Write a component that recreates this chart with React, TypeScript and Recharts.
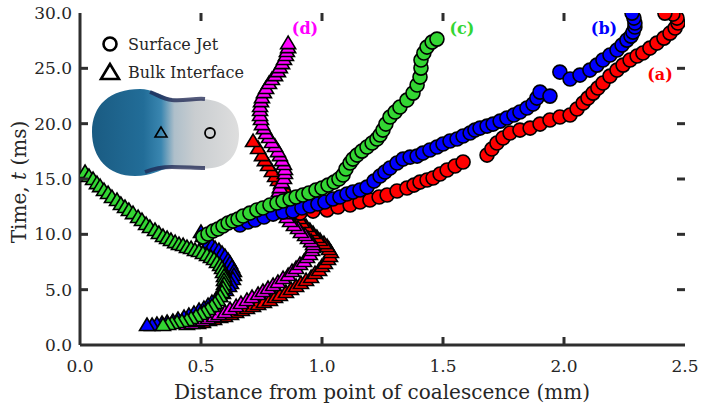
import React from 'react';
import { ScatterChart, Scatter, XAxis, YAxis } from 'recharts';

// colours of the four runs
const RED = '#ff0000';
const BLUE = '#0000ff';
const GREEN = '#33d633';
const MAGENTA = '#ff00ff';
const AXIS = '#2e2e2e';
const TEXT = '#262626';
const FONT = '"DejaVu Serif", "Liberation Serif", serif';

// plot frame (from the chart margins below)
const PLOT_TOP = 13;
const PLOT_RIGHT = 685;

const xTicks = [0, 0.5, 1, 1.5, 2, 2.5];
const yTicks = [0, 5, 10, 15, 20, 25, 30];

// [distance (mm), time (ms)]
// (a) surface jet
const jetA: [number, number][] = [
  [0.909, 11.92], [0.963, 12.1], [1.021, 12.2], [1.066, 12.47], [1.116, 12.65], [1.157, 12.92],
  [1.198, 13.1], [1.236, 13.37], [1.269, 13.55], [1.31, 13.91], [1.351, 14.18], [1.38, 14.45],
  [1.405, 14.72], [1.434, 14.91], [1.459, 15.09], [1.488, 15.45], [1.517, 15.81], [1.55, 16.17],
  [1.583, 16.53], [1.682, 17.16], [1.702, 17.71], [1.723, 18.25], [1.748, 18.7], [1.777, 19.15],
  [1.818, 19.42], [1.86, 19.6], [1.901, 19.96], [1.942, 20.33], [1.983, 20.6], [2.025, 20.78],
  [2.054, 21.32], [2.079, 21.86], [2.099, 22.31], [2.12, 22.76], [2.14, 23.22], [2.161, 23.67],
  [2.19, 24.3], [2.219, 24.84], [2.244, 25.29], [2.273, 25.75], [2.302, 26.11], [2.326, 26.38],
  [2.355, 26.83], [2.384, 27.28], [2.413, 27.73], [2.438, 28.18], [2.459, 28.64], [2.471, 29.09],
  [2.467, 29.54], [2.45, 29.9], [2.417, 29.99],
];
// (a) bulk interface
const bulkA: [number, number][] = [
  [0.488, 1.99], [0.508, 2.08], [0.533, 2.26], [0.554, 2.35], [0.579, 2.53], [0.599, 2.62],
  [0.624, 2.8], [0.645, 2.98], [0.669, 3.16], [0.69, 3.34], [0.715, 3.52], [0.736, 3.7],
  [0.76, 3.88], [0.785, 4.07], [0.806, 4.34], [0.826, 4.52], [0.851, 4.79], [0.872, 5.06],
  [0.893, 5.33], [0.913, 5.6], [0.934, 5.87], [0.955, 6.14], [0.971, 6.5], [0.988, 6.78],
  [1.0, 7.14], [1.012, 7.41], [1.025, 7.77], [1.033, 8.04], [1.037, 8.4], [1.029, 8.67],
  [1.021, 8.94], [1.008, 9.21], [0.992, 9.49], [0.979, 9.76], [0.963, 10.12], [0.95, 10.39],
  [0.934, 10.75], [0.917, 11.11], [0.905, 11.47], [0.893, 11.83], [0.884, 12.29], [0.876, 12.65],
  [0.868, 13.1], [0.86, 13.55], [0.851, 14.0], [0.843, 14.27], [0.831, 14.63], [0.818, 14.91],
  [0.806, 15.27], [0.793, 15.72], [0.777, 16.26], [0.764, 16.71], [0.752, 17.16], [0.736, 17.8],
  [0.715, 18.43],
];
// (b) surface jet
const jetB: [number, number][] = [
  [0.661, 10.84], [0.694, 11.11], [0.723, 11.29], [0.76, 11.56], [0.798, 11.83], [0.839, 12.01],
  [0.88, 12.1], [0.917, 12.38], [0.95, 12.56], [0.983, 12.74], [1.012, 12.92], [1.045, 13.19],
  [1.074, 13.37], [1.103, 13.64], [1.128, 13.82], [1.157, 14.0], [1.186, 14.27], [1.215, 14.81],
  [1.24, 15.27], [1.26, 15.63], [1.281, 15.99], [1.31, 16.44], [1.335, 16.8], [1.364, 16.98],
  [1.393, 17.07], [1.417, 17.34], [1.446, 17.62], [1.475, 17.89], [1.5, 18.16], [1.529, 18.43],
  [1.558, 18.61], [1.583, 18.88], [1.612, 19.15], [1.632, 19.42], [1.653, 19.6], [1.682, 19.78],
  [1.707, 19.96], [1.736, 20.23], [1.764, 20.51], [1.793, 20.78], [1.818, 21.05], [1.847, 21.41],
  [1.872, 21.77], [1.888, 22.31], [1.901, 22.85], [1.942, 22.49], [1.983, 24.66], [2.025, 24.03],
  [2.066, 24.39], [2.107, 24.84], [2.136, 25.29], [2.161, 25.75], [2.19, 26.2], [2.219, 26.65],
  [2.24, 27.1], [2.26, 27.55], [2.277, 27.91], [2.285, 28.27], [2.293, 28.73], [2.293, 29.09],
  [2.289, 29.54], [2.281, 29.99],
];
// (b) bulk interface
const bulkB: [number, number][] = [
  [0.5, 10.21], [0.508, 9.85], [0.521, 9.58], [0.533, 9.3], [0.545, 9.03], [0.558, 8.76],
  [0.574, 8.58], [0.587, 8.31], [0.599, 8.04], [0.612, 7.68], [0.62, 7.41], [0.628, 7.05],
  [0.636, 6.68], [0.636, 6.32], [0.632, 5.96], [0.624, 5.6], [0.616, 5.33], [0.603, 4.97],
  [0.591, 4.7], [0.579, 4.43], [0.562, 4.16], [0.545, 3.88], [0.529, 3.61], [0.512, 3.34],
  [0.492, 3.16], [0.471, 2.89], [0.45, 2.71], [0.43, 2.53], [0.405, 2.35], [0.384, 2.17],
  [0.36, 2.08], [0.339, 1.99], [0.318, 1.9], [0.298, 1.81], [0.277, 1.81],
];
// (c) surface jet
const jetC: [number, number][] = [
  [0.508, 9.76], [0.529, 10.03], [0.55, 10.3], [0.57, 10.48], [0.591, 10.75], [0.612, 11.02],
  [0.632, 11.2], [0.653, 11.38], [0.674, 11.65], [0.702, 11.92], [0.731, 12.2], [0.756, 12.38],
  [0.785, 12.65], [0.814, 12.83], [0.839, 13.01], [0.868, 13.19], [0.893, 13.37], [0.921, 13.55],
  [0.946, 13.73], [0.975, 14.0], [1.0, 14.18], [1.025, 14.45], [1.05, 14.72], [1.07, 15.0],
  [1.087, 15.36], [1.099, 15.9], [1.116, 16.44], [1.128, 16.8], [1.145, 17.16], [1.165, 17.52],
  [1.186, 17.89], [1.207, 18.25], [1.227, 18.61], [1.24, 18.97], [1.252, 19.42], [1.264, 19.96],
  [1.281, 20.6], [1.302, 21.05], [1.322, 21.5], [1.351, 22.13], [1.376, 22.76], [1.393, 23.49],
  [1.405, 24.21], [1.409, 25.02], [1.409, 25.75], [1.421, 26.38], [1.434, 26.92], [1.455, 27.37],
  [1.475, 27.64],
];
// (c) bulk interface
const bulkC: [number, number][] = [
  [0.021, 15.63], [0.037, 15.27], [0.054, 15.0], [0.07, 14.63], [0.083, 14.36], [0.099, 14.0],
  [0.116, 13.73], [0.132, 13.37], [0.153, 13.1], [0.169, 12.74], [0.186, 12.47], [0.202, 12.2],
  [0.219, 11.92], [0.24, 11.56], [0.256, 11.29], [0.273, 10.93], [0.289, 10.66], [0.31, 10.39],
  [0.326, 10.12], [0.343, 9.85], [0.36, 9.67], [0.376, 9.49], [0.393, 9.3], [0.409, 9.12],
  [0.426, 9.03], [0.442, 8.85], [0.459, 8.76], [0.475, 8.58], [0.492, 8.49], [0.508, 8.31],
  [0.525, 8.13], [0.541, 7.95], [0.554, 7.77], [0.566, 7.5], [0.579, 7.23], [0.587, 6.96],
  [0.591, 6.59], [0.595, 6.23], [0.595, 5.87], [0.595, 5.51], [0.591, 5.15], [0.587, 4.79],
  [0.579, 4.43], [0.57, 4.07], [0.558, 3.79], [0.545, 3.52], [0.529, 3.25], [0.512, 2.98],
  [0.496, 2.8], [0.479, 2.62], [0.459, 2.44], [0.442, 2.26], [0.421, 2.17], [0.401, 2.08],
  [0.38, 1.99], [0.364, 1.9], [0.343, 1.81],
];
// (d) bulk interface
const bulkD: [number, number][] = [
  [0.442, 1.9], [0.463, 1.99], [0.483, 2.17], [0.508, 2.26], [0.529, 2.44], [0.554, 2.62],
  [0.574, 2.8], [0.599, 2.98], [0.62, 3.25], [0.645, 3.52], [0.665, 3.79], [0.69, 4.07],
  [0.711, 4.34], [0.736, 4.61], [0.756, 4.88], [0.777, 5.15], [0.798, 5.42], [0.818, 5.69],
  [0.839, 6.05], [0.86, 6.32], [0.876, 6.68], [0.893, 6.96], [0.909, 7.32], [0.926, 7.59],
  [0.938, 7.95], [0.95, 8.22], [0.959, 8.58], [0.963, 8.85], [0.963, 9.12], [0.955, 9.39],
  [0.942, 9.67], [0.93, 9.94], [0.913, 10.21], [0.901, 10.57], [0.884, 10.84], [0.868, 11.2],
  [0.855, 11.56], [0.843, 11.92], [0.835, 12.29], [0.826, 12.65], [0.822, 13.1], [0.822, 13.46],
  [0.822, 13.91], [0.826, 14.27], [0.835, 14.72], [0.843, 15.09], [0.847, 15.54], [0.847, 15.9],
  [0.843, 16.35], [0.835, 16.71], [0.826, 17.16], [0.818, 17.52], [0.806, 17.98], [0.793, 18.34],
  [0.781, 18.79], [0.769, 19.15], [0.76, 19.6], [0.752, 19.96], [0.748, 20.42], [0.744, 20.78],
  [0.744, 21.23], [0.744, 21.59], [0.748, 22.04], [0.752, 22.4], [0.76, 22.85], [0.769, 23.22],
  [0.781, 23.67], [0.793, 24.03], [0.806, 24.39], [0.818, 24.75], [0.826, 25.11], [0.835, 25.47],
  [0.843, 25.84], [0.851, 26.2], [0.855, 26.56], [0.86, 26.92], [0.86, 27.28],
];

const toRows = (pts: [number, number][]) => pts.map(([x, t]) => ({ x, t }));

const Dot = (color: string) => (p: any) => (
  <circle cx={p.cx} cy={p.cy} r={7} fill={color} stroke="#000" strokeWidth={1.6} />
);

const Tri = (color: string) => (p: any) => (
  <polygon
    points={`${p.cx},${p.cy - 7} ${p.cx - 7.5},${p.cy + 5.5} ${p.cx + 7.5},${p.cy + 5.5}`}
    fill={color}
    stroke="#000"
    strokeWidth={1.6}
  />
);

// bottom labels plus inward ticks on the bottom and top edges
const BottomTick = (p: any) => {
  const v = Number(p.payload.value);
  const inner = v > 0 && v < 2.5;
  return (
    <g>
      {inner && <line x1={p.x} x2={p.x} y1={p.y} y2={p.y - 8} stroke={AXIS} strokeWidth={3} />}
      {inner && <line x1={p.x} x2={p.x} y1={PLOT_TOP} y2={PLOT_TOP + 8} stroke={AXIS} strokeWidth={3} />}
      <text x={p.x} y={p.y + 27} textAnchor="middle" fontFamily={FONT} fontSize={17} fill={TEXT}>
        {v.toFixed(1)}
      </text>
    </g>
  );
};

// left labels plus inward ticks on the left and right edges
const LeftTick = (p: any) => {
  const v = Number(p.payload.value);
  const inner = v > 0 && v < 30;
  return (
    <g>
      {inner && <line x1={p.x} x2={p.x + 8} y1={p.y} y2={p.y} stroke={AXIS} strokeWidth={3} />}
      {inner && <line x1={PLOT_RIGHT} x2={PLOT_RIGHT - 8} y1={p.y} y2={p.y} stroke={AXIS} strokeWidth={3} />}
      <text x={p.x - 8} y={p.y + 6} textAnchor="end" fontFamily={FONT} fontSize={17} fill={TEXT}>
        {v.toFixed(1)}
      </text>
    </g>
  );
};

// rough drawing of the droplet photo inset
const Inset = () => (
  <svg width={702} height={409} style={{ position: 'absolute', left: 0, top: 0 }}>
    <defs>
      <linearGradient id="drop" x1="0" y1="0" x2="1" y2="0">
        <stop offset="0%" stopColor="#1a5b82" />
        <stop offset="35%" stopColor="#226d98" />
        <stop offset="47%" stopColor="#3a86b0" />
        <stop offset="56%" stopColor="#aebfca" />
        <stop offset="70%" stopColor="#c9cdd0" />
        <stop offset="100%" stopColor="#dedede" />
      </linearGradient>
    </defs>
    <path
      d="M92,132 C92,105 110,89 140,89 C152,89 158,95 170,98 C185,101 200,97 215,101 C232,106 239,120 239,134 C239,152 230,166 212,168 C197,170 185,166 170,168 C158,170 152,176 135,176 C108,176 92,158 92,132 Z"
      fill="url(#drop)"
    />
    <path d="M150,92 C158,95 163,99 172,100 C185,101 195,98 205,99" stroke="#1c2450" strokeWidth={4} fill="none" opacity={0.75} />
    <path d="M145,172 C155,168 162,167 172,167 C185,167 195,168 205,168" stroke="#1c2450" strokeWidth={4} fill="none" opacity={0.75} />
    <polygon points="161,127 155,137 167,137" fill="none" stroke="#000" strokeWidth={1.6} />
    <circle cx={210} cy={133} r={5} fill="none" stroke="#000" strokeWidth={1.8} />
  </svg>
);

const Overlay = () => (
  <svg width={702} height={409} style={{ position: 'absolute', left: 0, top: 0, pointerEvents: 'none' }}>
    <circle cx={110} cy={44} r={6.5} fill="none" stroke="#000" strokeWidth={2.6} />
    <text x={128} y={50} fontFamily={FONT} fontSize={16} fill={TEXT}>Surface Jet</text>
    <polygon points="110,64 101,79 119,79" fill="none" stroke="#000" strokeWidth={2.6} />
    <text x={128} y={78} fontFamily={FONT} fontSize={16} fill={TEXT}>Bulk Interface</text>

    <text x={305} y={34} textAnchor="middle" fontFamily={FONT} fontSize={16} fontWeight="bold" fill={MAGENTA}>(d)</text>
    <text x={462} y={34} textAnchor="middle" fontFamily={FONT} fontSize={16} fontWeight="bold" fill={GREEN}>(c)</text>
    <text x={604} y={34} textAnchor="middle" fontFamily={FONT} fontSize={16} fontWeight="bold" fill={BLUE}>(b)</text>
    <text x={660} y={80} textAnchor="middle" fontFamily={FONT} fontSize={16} fontWeight="bold" fill={RED}>(a)</text>

    <text x={382} y={399} textAnchor="middle" fontFamily={FONT} fontSize={20} fill={TEXT}>
      Distance from point of coalescence (mm)
    </text>
    <text transform="translate(26,182) rotate(-90)" textAnchor="middle" fontFamily={FONT} fontSize={20} fill={TEXT}>
      Time, <tspan fontStyle="italic">t</tspan> (ms)
    </text>
  </svg>
);

export default function App() {
  return (
    <div style={{ position: 'relative', width: 702, height: 409, background: '#fff' }}>
      <style>{'body{margin:0}'}</style>
      <Inset />
      <div style={{ position: 'absolute', left: 0, top: 0 }}>
        <ScatterChart width={702} height={409} margin={{ top: PLOT_TOP, right: 702 - PLOT_RIGHT, bottom: 0, left: 0 }}>
          <XAxis
            type="number"
            dataKey="x"
            domain={[0, 2.5]}
            ticks={xTicks}
            allowDataOverflow
            height={64}
            tickSize={0}
            tickMargin={0}
            tick={<BottomTick />}
            tickLine={false}
            axisLine={{ stroke: AXIS, strokeWidth: 3 }}
          />
          <XAxis
            xAxisId="top"
            orientation="top"
            type="number"
            domain={[0, 2.5]}
            allowDataOverflow
            height={0}
            tick={false}
            tickLine={false}
            axisLine={{ stroke: AXIS, strokeWidth: 3 }}
          />
          <YAxis
            type="number"
            dataKey="t"
            domain={[0, 30]}
            ticks={yTicks}
            allowDataOverflow
            width={80}
            tickSize={0}
            tickMargin={0}
            tick={<LeftTick />}
            tickLine={false}
            axisLine={{ stroke: AXIS, strokeWidth: 3 }}
          />
          <YAxis
            yAxisId="right"
            orientation="right"
            type="number"
            domain={[0, 30]}
            allowDataOverflow
            width={0}
            tick={false}
            tickLine={false}
            axisLine={{ stroke: AXIS, strokeWidth: 3 }}
          />
          <Scatter data={toRows(bulkA)} shape={Tri(RED)} isAnimationActive={false} />
          <Scatter data={toRows(bulkD)} shape={Tri(MAGENTA)} isAnimationActive={false} />
          <Scatter data={toRows(jetA)} shape={Dot(RED)} isAnimationActive={false} />
          <Scatter data={toRows(bulkB)} shape={Tri(BLUE)} isAnimationActive={false} />
          <Scatter data={toRows(jetB)} shape={Dot(BLUE)} isAnimationActive={false} />
          <Scatter data={toRows(bulkC)} shape={Tri(GREEN)} isAnimationActive={false} />
          <Scatter data={toRows(jetC)} shape={Dot(GREEN)} isAnimationActive={false} />
        </ScatterChart>
      </div>
      <Overlay />
    </div>
  );
}
